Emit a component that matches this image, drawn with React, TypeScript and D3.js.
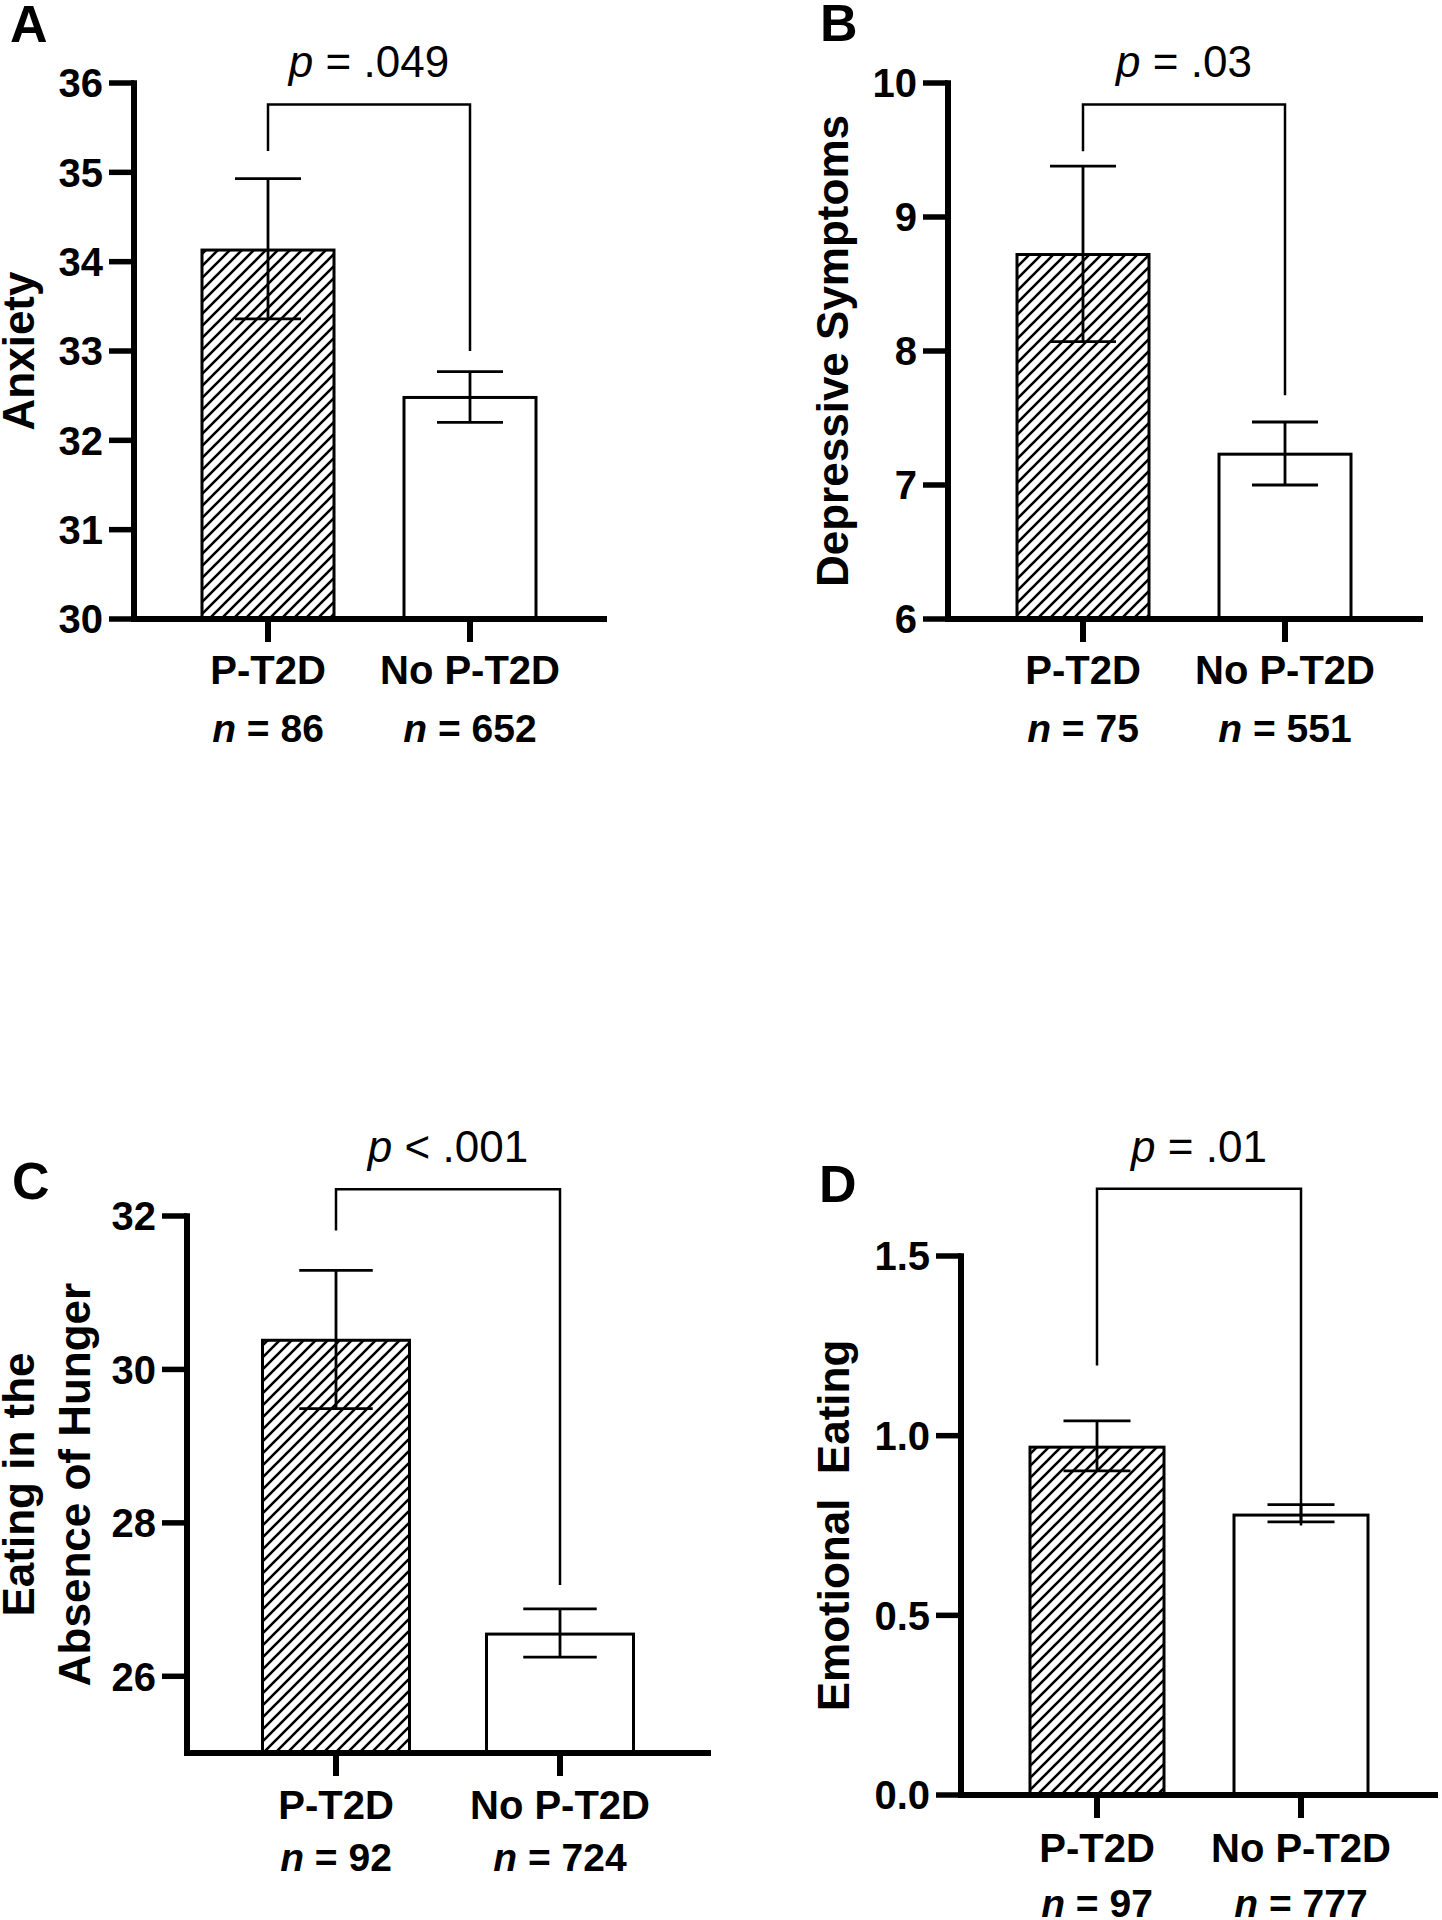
import React from "react";
import * as d3 from "d3";

const categories = ["P-T2D", "No P-T2D"];

const anxietyMeans = [34.13, 32.48];
const anxietyLow = [33.36, 32.2];
const anxietyHigh = [34.93, 32.77];
const anxietyN = [86, 652];
const anxietyTicks = [30, 31, 32, 33, 34, 35, 36];
const anxietyBracket = [35.24, 35.76, 33.0];

const depMeans = [8.72, 7.23];
const depLow = [8.07, 7.0];
const depHigh = [9.38, 7.47];
const depN = [75, 551];
const depTicks = [6, 7, 8, 9, 10];
const depBracket = [9.49, 9.84, 7.67];

const eahMeans = [30.38, 26.55];
const eahLow = [29.49, 26.25];
const eahHigh = [31.29, 26.88];
const eahN = [92, 724];
const eahTicks = [26, 28, 30, 32];
const eahBracket = [31.81, 32.35, 27.19];

const eeMeans = [0.968, 0.779];
const eeLow = [0.902, 0.76];
const eeHigh = [1.041, 0.808];
const eeN = [97, 777];
const eeTicks = [0, 0.5, 1.0, 1.5];
const eeBracket = [1.195, 1.687, 0.75];

const pLabels = ["= .049", "= .03", "< .001", "= .01"];
const panelLetters = ["A", "B", "C", "D"];
const yLabels = [["Anxiety"], ["Depressive Symptoms"], ["Eating in the", "Absence of Hunger"], ["Emotional  Eating"]];

const FONT = "'Liberation Sans', Arial, Helvetica, sans-serif";

type Cfg = {
  idx: number;
  means: number[];
  low: number[];
  high: number[];
  ns: number[];
  ticks: number[];
  bracket: number[];
  domain: [number, number];
  fmt: (v: number) => string;
  axisX: number;
  axisY: number;
  topY: number;
  xEnd: number;
  c1: number;
  c2: number;
  bw: number;
  labelX: number[];
  letterX: number;
  letterY: number;
  catOff: number;
  nOff: number;
};

function Panel({ cfg }: { cfg: Cfg }) {
  const y = d3.scaleLinear().domain(cfg.domain).range([cfg.axisY, cfg.topY]);
  const x = d3.scalePoint<string>().domain(categories).range([cfg.c1, cfg.c2]);
  const centerY = (cfg.axisY + cfg.topY) / 2;
  const [bl, bt, br] = cfg.bracket;
  const xa = x(categories[0])!;
  const xb = x(categories[1])!;
  return (
    <g>
      <text x={cfg.letterX} y={cfg.letterY} fontFamily={FONT} fontWeight="bold" fontSize={52}>
        {panelLetters[cfg.idx]}
      </text>
      {yLabels[cfg.idx].map((l, i) => (
        <text
          key={i}
          transform={`translate(${cfg.labelX[i]},${centerY}) rotate(-90)`}
          textAnchor="middle"
          fontFamily={FONT}
          fontWeight="bold"
          fontSize={44}
          style={{ whiteSpace: "pre" }}
        >
          {l}
        </text>
      ))}
      {/* bars */}
      {categories.map((c, i) => {
        const cx = x(c)!;
        const top = y(cfg.means[i]);
        return (
          <rect
            key={c}
            x={cx - cfg.bw / 2}
            y={top}
            width={cfg.bw}
            height={cfg.axisY - top}
            fill={i === 0 ? "url(#hatch)" : "#fff"}
            stroke="#000"
            strokeWidth={3}
          />
        );
      })}
      {/* error bars */}
      {categories.map((c, i) => {
        const cx = x(c)!;
        const yl = y(cfg.low[i]);
        const yh = y(cfg.high[i]);
        const hw = cfg.bw / 4;
        return (
          <g key={c} stroke="#000" strokeWidth={2.8}>
            <line x1={cx} x2={cx} y1={yl} y2={yh} />
            <line x1={cx - hw} x2={cx + hw} y1={yh} y2={yh} />
            <line x1={cx - hw} x2={cx + hw} y1={yl} y2={yl} />
          </g>
        );
      })}
      {/* axes */}
      <line x1={cfg.axisX} x2={cfg.axisX} y1={y(cfg.domain[1]) - 2.75} y2={cfg.axisY + 3} stroke="#000" strokeWidth={6} />
      <line x1={cfg.axisX - 3} x2={cfg.xEnd} y1={cfg.axisY} y2={cfg.axisY} stroke="#000" strokeWidth={6} />
      {cfg.ticks.map((t) => (
        <g key={t}>
          <line x1={cfg.axisX - 25} x2={cfg.axisX} y1={y(t)} y2={y(t)} stroke="#000" strokeWidth={5.5} />
          <text
            x={cfg.axisX - 31}
            y={y(t)}
            dy="0.36em"
            textAnchor="end"
            fontFamily={FONT}
            fontWeight="bold"
            fontSize={40}
          >
            {cfg.fmt(t)}
          </text>
        </g>
      ))}
      {categories.map((c, i) => {
        const cx = x(c)!;
        return (
          <g key={c}>
            <line x1={cx} x2={cx} y1={cfg.axisY} y2={cfg.axisY + 23} stroke="#000" strokeWidth={6} />
            <text x={cx} y={cfg.axisY + cfg.catOff} textAnchor="middle" fontFamily={FONT} fontWeight="bold" fontSize={40}>
              {c}
            </text>
            <text x={cx} y={cfg.axisY + cfg.nOff} textAnchor="middle" fontFamily={FONT} fontWeight="bold" fontSize={39}>
              <tspan fontStyle="italic">n</tspan>
              {` = ${cfg.ns[i]}`}
            </text>
          </g>
        );
      })}
      {/* significance bracket */}
      <path
        d={`M${xa},${y(bl)}V${y(bt)}H${xb}V${y(br)}`}
        fill="none"
        stroke="#000"
        strokeWidth={2.5}
      />
      <text x={(xa + xb) / 2} y={y(bt) - 27} textAnchor="middle" fontFamily={FONT} fontSize={44}>
        <tspan fontStyle="italic">p</tspan>
        {` ${pLabels[cfg.idx]}`}
      </text>
    </g>
  );
}

export default function App() {
  const fmtInt = (v: number) => d3.format("d")(v);
  const fmt1 = (v: number) => d3.format(".1f")(v);
  const cfgs: Cfg[] = [
    {
      idx: 0, means: anxietyMeans, low: anxietyLow, high: anxietyHigh, ns: anxietyN, ticks: anxietyTicks,
      bracket: anxietyBracket, domain: [30, 36], fmt: fmtInt,
      axisX: 134, axisY: 619, topY: 83, xEnd: 607, c1: 268, c2: 470, bw: 132,
      labelX: [34], letterX: 10, letterY: 42, catOff: 65, nOff: 123,
    },
    {
      idx: 1, means: depMeans, low: depLow, high: depHigh, ns: depN, ticks: depTicks,
      bracket: depBracket, domain: [6, 10], fmt: fmtInt,
      axisX: 948, axisY: 619, topY: 83, xEnd: 1423, c1: 1083, c2: 1285, bw: 132,
      labelX: [848], letterX: 820, letterY: 41, catOff: 65, nOff: 123,
    },
    {
      idx: 2, means: eahMeans, low: eahLow, high: eahHigh, ns: eahN, ticks: eahTicks,
      bracket: eahBracket, domain: [25, 32], fmt: fmtInt,
      axisX: 187, axisY: 1753, topY: 1216, xEnd: 711, c1: 336, c2: 560, bw: 147,
      labelX: [34, 90], letterX: 12, letterY: 1199, catOff: 66, nOff: 118,
    },
    {
      idx: 3, means: eeMeans, low: eeLow, high: eeHigh, ns: eeN, ticks: eeTicks,
      bracket: eeBracket, domain: [0, 1.5], fmt: fmt1,
      axisX: 961, axisY: 1795, topY: 1256, xEnd: 1438, c1: 1097, c2: 1301, bw: 134,
      labelX: [849], letterX: 819, letterY: 1202, catOff: 67, nOff: 122,
    },
  ];
  return (
    <svg
      width={1442}
      height={1920}
      viewBox="0 0 1442 1920"
      style={{ position: "absolute", left: 0, top: 0, background: "#fff" }}
    >
      <defs>
        <pattern id="hatch" patternUnits="userSpaceOnUse" width={12} height={12}>
          <rect width={12} height={12} fill="#fff" />
          <path d="M-2,14 L14,-2 M-2,2 L2,-2 M10,14 L14,10" stroke="#000" strokeWidth={2.6} />
        </pattern>
      </defs>
      <rect width={1442} height={1920} fill="#fff" />
      {cfgs.map((c) => (
        <Panel key={c.idx} cfg={c} />
      ))}
    </svg>
  );
}
